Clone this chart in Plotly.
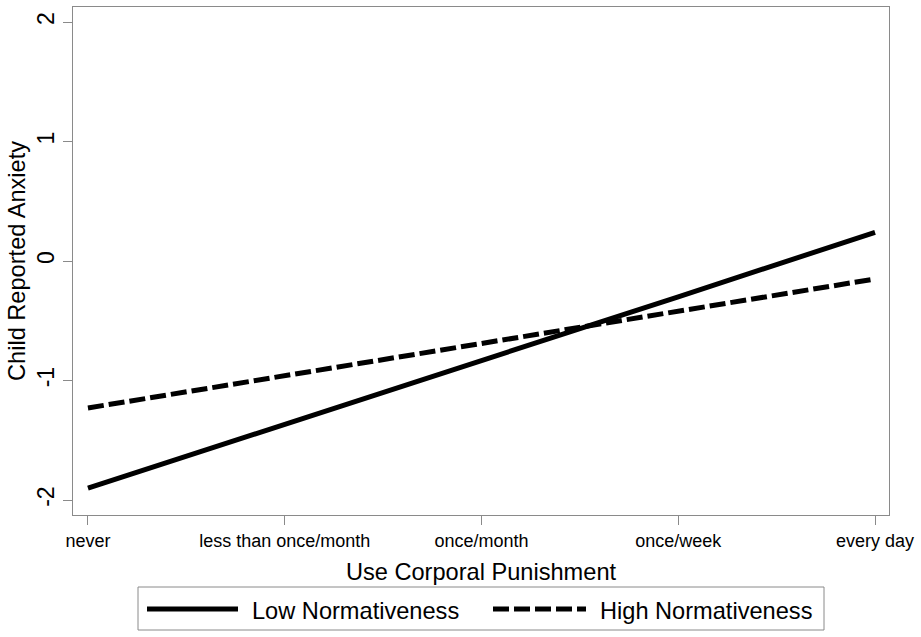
import plotly.graph_objects as go

categories = ["never", "less than once/month", "once/month", "once/week", "every day"]
low_norm = [-1.90, -1.37, -0.83, -0.30, 0.24]
high_norm = [-1.23, -0.96, -0.69, -0.42, -0.15]
y_ticks = [-2, -1, 0, 1, 2]
series_names = ["Low Normativeness", "High Normativeness"]

FONT = "Arial, Liberation Sans, Helvetica, sans-serif"
GRAY = "#8a8a8a"
TS = 23.6
x_idx = list(range(len(categories)))

fig = go.Figure()
fig.add_trace(go.Scatter(x=x_idx, y=low_norm, mode="lines", name=series_names[0],
                         line=dict(color="black", width=5), showlegend=False))
fig.add_trace(go.Scatter(x=x_idx, y=high_norm, mode="lines", name=series_names[1],
                         line=dict(color="black", width=5, dash="16px,5px"), showlegend=False))

# plot area pixels: x 73..889, y 7..515
L, R, T, B = 73, 889, 7, 515
W, H = R - L, B - T
def px(x):
    return (x - L) / W
def py(y):
    return (B - y) / H

shapes = [
    dict(type="rect", xref="paper", yref="paper", x0=px(138), x1=px(824), y0=py(587), y1=py(630),
         line=dict(color=GRAY, width=1), fillcolor="white"),
    dict(type="line", xref="paper", yref="paper", x0=px(147), x1=px(238), y0=py(609), y1=py(609),
         line=dict(color="black", width=5)),
    dict(type="line", xref="paper", yref="paper", x0=px(493), x1=px(586), y0=py(609), y1=py(609),
         line=dict(color="black", width=5, dash="16px,5px")),
]
annotations = [
    dict(xref="paper", yref="paper", x=px(250), y=py(611), text=series_names[0], showarrow=False,
         xanchor="left", yanchor="middle", font=dict(family=FONT, size=TS, color="black")),
    dict(xref="paper", yref="paper", x=px(598), y=py(611), text=series_names[1], showarrow=False,
         xanchor="left", yanchor="middle", font=dict(family=FONT, size=TS, color="black")),
]

fig.update_layout(
    width=921, height=637,
    margin=dict(l=L, r=921 - R, t=T, b=637 - B),
    paper_bgcolor="white", plot_bgcolor="white",
    font=dict(family=FONT, color="black"),
    shapes=shapes, annotations=annotations,
    showlegend=False,
)
fig.update_xaxes(
    range=[-0.076, 4.071], tickvals=x_idx, ticktext=categories,
    ticks="outside", ticklen=9, tickcolor=GRAY, tickwidth=1,
    showline=True, mirror=True, linecolor=GRAY, linewidth=1,
    showgrid=False, zeroline=False, automargin=False,
    tickfont=dict(family=FONT, size=18, color="black"),
    title=dict(text="Use Corporal Punishment", font=dict(family=FONT, size=TS, color="black"), standoff=13),
)
fig.update_yaxes(
    range=[-2.1255, 2.1255], tickvals=y_ticks, ticktext=[str(v) for v in y_ticks],
    tickangle=-90,
    ticks="outside", ticklen=9, tickcolor=GRAY, tickwidth=1,
    showline=True, mirror=True, linecolor=GRAY, linewidth=1,
    showgrid=False, zeroline=False, automargin=False,
    tickfont=dict(family=FONT, size=23, color="black"),
    title=dict(text="Child Reported Anxiety", font=dict(family=FONT, size=TS, color="black"), standoff=0),
)

fig.write_html("out.html", config={"displayModeBar": False},
               post_script="document.body.style.margin='0';")
